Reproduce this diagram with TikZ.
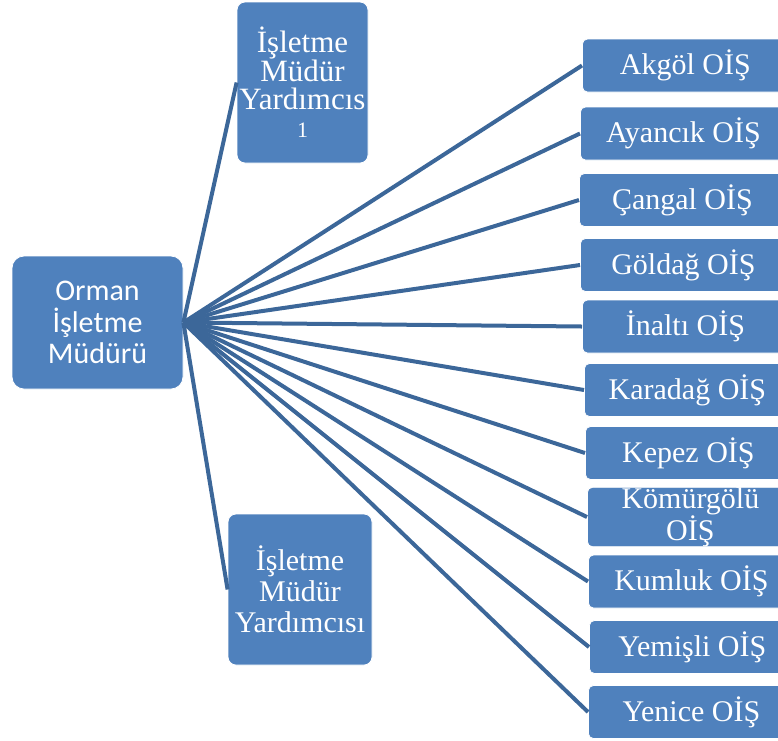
\documentclass[tikz,border=0pt]{standalone}
\usepackage{fontspec}
\setmainfont{Liberation Serif}
\newfontfamily\calibri{Carlito}
\definecolor{boxblue}{HTML}{4F81BD}
\definecolor{linkblue}{HTML}{3C6799}
\begin{document}
\begin{tikzpicture}[x=1pt,y=-1pt,
  box/.style={draw=white, line width=0.8pt, fill=boxblue, text=white, inner sep=0pt, align=center},
  unit/.style={box, rounded corners=5pt, minimum height=53pt, minimum width=206pt, anchor=west,
               font=\fontsize{30}{29}\selectfont},
  link/.style={draw=linkblue, line width=4pt}]
\useasboundingbox (0,0) rectangle (778,740);

\node[box, rounded corners=12pt, minimum width=171pt, minimum height=133pt,
      font=\calibri\fontsize{30}{31.5}\selectfont] (main) at (97.5,322.5) {Orman\\İşletme\\Müdürü};

\node[box, rounded corners=8pt, minimum width=131pt, minimum height=161pt,
      font=\fontsize{31}{28}\selectfont] (y1) at (302.5,82.5)
      {İşletme\\Müdür\\Yardımcıs\\{\fontsize{22}{32}\selectfont 1}};
\node[box, rounded corners=8pt, minimum width=144pt, minimum height=151pt,
      font=\fontsize{30}{31}\selectfont] (y2) at (300,589.5)
      {İşletme\\Müdür\\Yardımcısı};

\foreach \n/\lx/\cy/\t in {
  u1/582/65.5/{Akgöl OİŞ},
  u2/580/133.5/{Ayancık OİŞ},
  u3/579/200/{Çangal OİŞ},
  u4/580/265/{Göldağ OİŞ},
  u5/582/326.5/{İnaltı OİŞ},
  u6/584/390/{Karadağ OİŞ},
  u7/585/453/{Kepez OİŞ},
  u8/587/517/{Kömürgölü\\OİŞ},
  u9/588/581.5/{Kumluk OİŞ},
  u10/589/647/{Yemişli OİŞ},
  u11/588/712/{Yenice OİŞ}}{
  \node[unit] (\n) at (\lx,\cy) {\t};
}

\foreach \n in {y1,y2,u1,u2,u3,u4,u5,u6,u7,u8,u9,u10,u11}{
  \draw[link] (main.east) -- (\n.west);
}
\end{tikzpicture}
\end{document}
